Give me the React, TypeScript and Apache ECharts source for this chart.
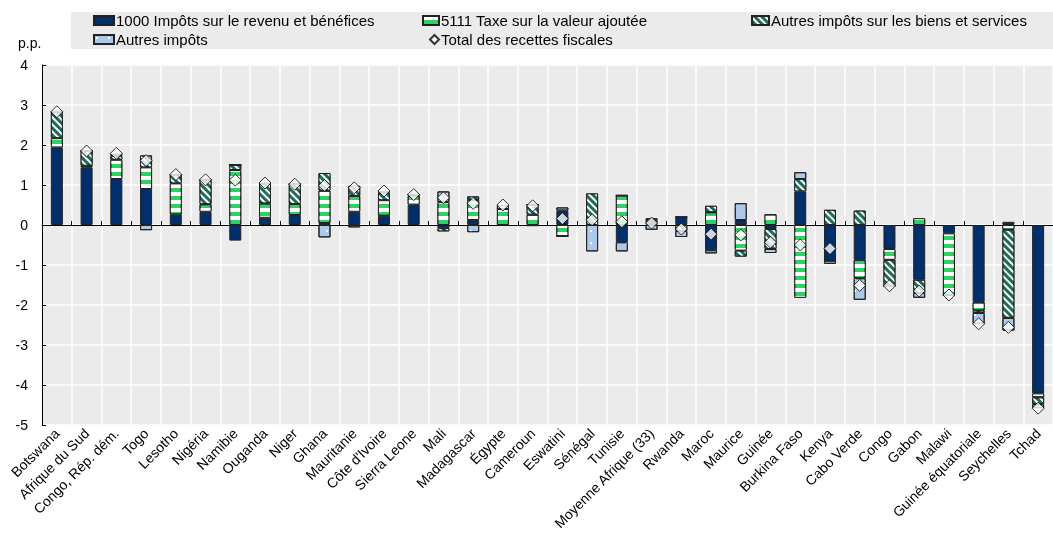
import React, { useEffect, useRef } from 'react';
import * as echarts from 'echarts';

const categories = [
  'Botswana', 'Afrique du Sud', 'Congo, Rép. dém.', 'Togo', 'Lesotho', 'Nigéria', 'Namibie',
  'Ouganda', 'Niger', 'Ghana', 'Mauritanie', "Côte d'Ivoire", 'Sierra Leone', 'Mali',
  'Madagascar', 'Égypte', 'Cameroun', 'Eswatini', 'Sénégal', 'Tunisie', 'Moyenne Afrique (33)',
  'Rwanda', 'Maroc', 'Maurice', 'Guinée', 'Burkina Faso', 'Kenya', 'Cabo Verde', 'Congo',
  'Gabon', 'Malawi', 'Guinée équatoriale', 'Seychelles', 'Tchad',
];

const impotsRevenu = [
  1.94, 1.44, 1.15, 0.9, 0.26, 0.33, -0.39, 0.18, 0.25, 0.05, 0.33, 0.23, 0.51, -0.08,
  0.125, 0, -0.03, 0.36, 0, -0.43, 0.06, 0.2, -0.63, 0.125, -0.1, 0.84, -0.89, -0.87, -0.6,
  -1.37, -0.21, -1.93, 0.08, -4.21,
];
const tva = [
  0.23, 0.04, 0.48, 0.54, 0.78, 0.19, 1.375, 0.36, 0.275, 0.81, 0.4, 0.39, 0.22, 0.57,
  0.5, 0.4, 0.26, -0.28, 0, 0.74, 0.06, 0, 0.32, -0.64, 0.27, -1.82, 0, -0.46, -0.27,
  0.17, -1.54, -0.21, -0.12, -0.1,
];
const autresBiens = [
  0.65, 0.37, 0.1, 0.3, 0.22, 0.61, 0.13, 0.5, 0.5, 0.44, 0.25, 0.19, 0.03, -0.08,
  0.09, 0, 0.25, 0, 0.79, 0, 0.05, -0.15, 0.16, -0.15, -0.5, 0.31, 0.38, 0.36, -0.65,
  -0.33, 0, -0.06, -2.2, -0.17,
];
const autresImpots = [
  0, 0, 0.05, -0.13, 0, 0, 0, 0, 0, -0.31, -0.06, 0.03, 0, 0.27,
  -0.18, 0.1, 0, 0.08, -0.66, -0.23, -0.12, -0.15, -0.08, 0.42, -0.1, 0.17, -0.08, -0.54, 0,
  -0.12, 0, -0.27, -0.32, -0.1,
];
const totalRecettes = [
  2.83, 1.85, 1.79, 1.61, 1.26, 1.13, 1.12, 1.05, 1.02, 0.99, 0.93, 0.85, 0.76, 0.68,
  0.54, 0.5, 0.48, 0.16, 0.13, 0.08, 0.05, -0.1, -0.23, -0.25, -0.43, -0.5, -0.59, -1.51, -1.52,
  -1.65, -1.75, -2.47, -2.56, -4.58,
];

const seriesNames = [
  '1000 Impôts sur le revenu et bénéfices',
  '5111 Taxe sur la valeur ajoutée',
  'Autres impôts sur les biens et services',
  'Autres impôts',
  'Total des recettes fiscales',
];

const FONT = '"Liberation Sans", Arial, sans-serif';

export default function App() {
  const ref = useRef<HTMLDivElement>(null);
  useEffect(() => {
    const chart = echarts.init(ref.current as HTMLDivElement, null, { renderer: 'svg' });
    const border = { borderColor: '#222', borderWidth: 1 };
    const bar = (name: string, data: number[], color: string, decal: any) => ({
      type: 'bar',
      name,
      data,
      stack: 'tot',
      barWidth: 12,
      xAxisIndex: 0,
      yAxisIndex: 0,
      itemStyle: { color, ...border, decal },
    });
    const legendBase = {
      padding: 0,
      itemGap: 0,
      textStyle: { fontSize: 15, color: '#000', fontFamily: FONT, padding: [0, 0, 0, -3] },
    };
    chart.setOption({
      animation: false,
      textStyle: { fontFamily: FONT },
      graphic: [
        { type: 'rect', left: 71, top: 12, z: 0, shape: { width: 990, height: 37 }, style: { fill: '#ebebeb' } },
        { type: 'text', left: 18, top: 36, z: 1, style: { text: 'p.p.', fontSize: 14, fontFamily: FONT, fill: '#000' } },
      ],
      legend: [
        { ...legendBase, left: 93, top: 13, itemWidth: 20, itemHeight: 9, data: [{ name: seriesNames[0], icon: 'rect' }] },
        { ...legendBase, left: 422, top: 13, itemWidth: 16, itemHeight: 9, data: [{ name: seriesNames[1], icon: 'rect' }] },
        { ...legendBase, left: 751, top: 13, itemWidth: 17, itemHeight: 9, data: [{ name: seriesNames[2], icon: 'rect' }] },
        { ...legendBase, left: 93, top: 32, itemWidth: 20, itemHeight: 9, data: [{ name: seriesNames[3], icon: 'rect' }] },
        { ...legendBase, left: 429, top: 32, itemWidth: 9, itemHeight: 9, data: [{ name: seriesNames[4], icon: 'diamond' }] },
      ],
      grid: { left: 42, top: 65, bottom: 109, right: -9, show: true, backgroundColor: '#ebebeb', borderWidth: 0 },
      xAxis: [
        {
          type: 'category',
          data: categories,
          position: 'bottom',
          axisLine: { show: false, onZero: false },
          axisTick: { show: false },
          splitLine: { show: true, interval: 0, lineStyle: { color: '#fff', width: 1.5 } },
          axisLabel: { interval: 0, rotate: 45, fontSize: 14, color: '#000', margin: 6, fontFamily: FONT },
        },
        {
          type: 'category',
          data: categories,
          position: 'top',
          axisLine: { show: true, onZero: true, lineStyle: { color: '#000', width: 1 } },
          axisTick: { show: true, interval: 0, inside: false, length: 4, lineStyle: { color: '#000' } },
          axisLabel: { show: false },
          splitLine: { show: false },
        },
      ],
      yAxis: {
        type: 'value',
        min: -5,
        max: 4,
        interval: 1,
        axisLine: { show: true, lineStyle: { color: '#000' } },
        axisTick: { show: true, inside: true, length: 4, lineStyle: { color: '#000' } },
        axisLabel: { fontSize: 14, color: '#000', margin: 14, fontFamily: FONT },
        splitLine: { show: true, lineStyle: { color: '#fff', width: 1.5 } },
      },
      series: [
        bar(seriesNames[0], impotsRevenu, '#002f6c', undefined),
        bar(seriesNames[1], tva, '#2fd064', {
          color: '#ffffff', symbol: 'rect', symbolSize: 1, dashArrayX: [1, 0], dashArrayY: [4, 4], rotation: 0,
        }),
        bar(seriesNames[2], autresBiens, '#1e6b58', {
          color: '#ffffff', symbol: 'rect', symbolSize: 1, dashArrayX: [1, 0], dashArrayY: [2, 3], rotation: Math.PI / 4,
        }),
        bar(seriesNames[3], autresImpots, '#acc9ea', {
          color: '#ffffff', symbol: 'rect', symbolSize: 0.3, dashArrayX: [[6, 6]], dashArrayY: [6, 6], rotation: 0,
        }),
        {
          type: 'scatter',
          name: seriesNames[4],
          data: totalRecettes,
          xAxisIndex: 0,
          yAxisIndex: 0,
          symbol: 'diamond',
          symbolSize: 12,
          z: 5,
          itemStyle: { color: '#fff', borderColor: '#000', borderWidth: 1 },
        },
      ],
    });
    return () => chart.dispose();
  }, []);
  return <div ref={ref} style={{ position: 'fixed', left: 0, top: 0, width: 1053, height: 534 }} />;
}
